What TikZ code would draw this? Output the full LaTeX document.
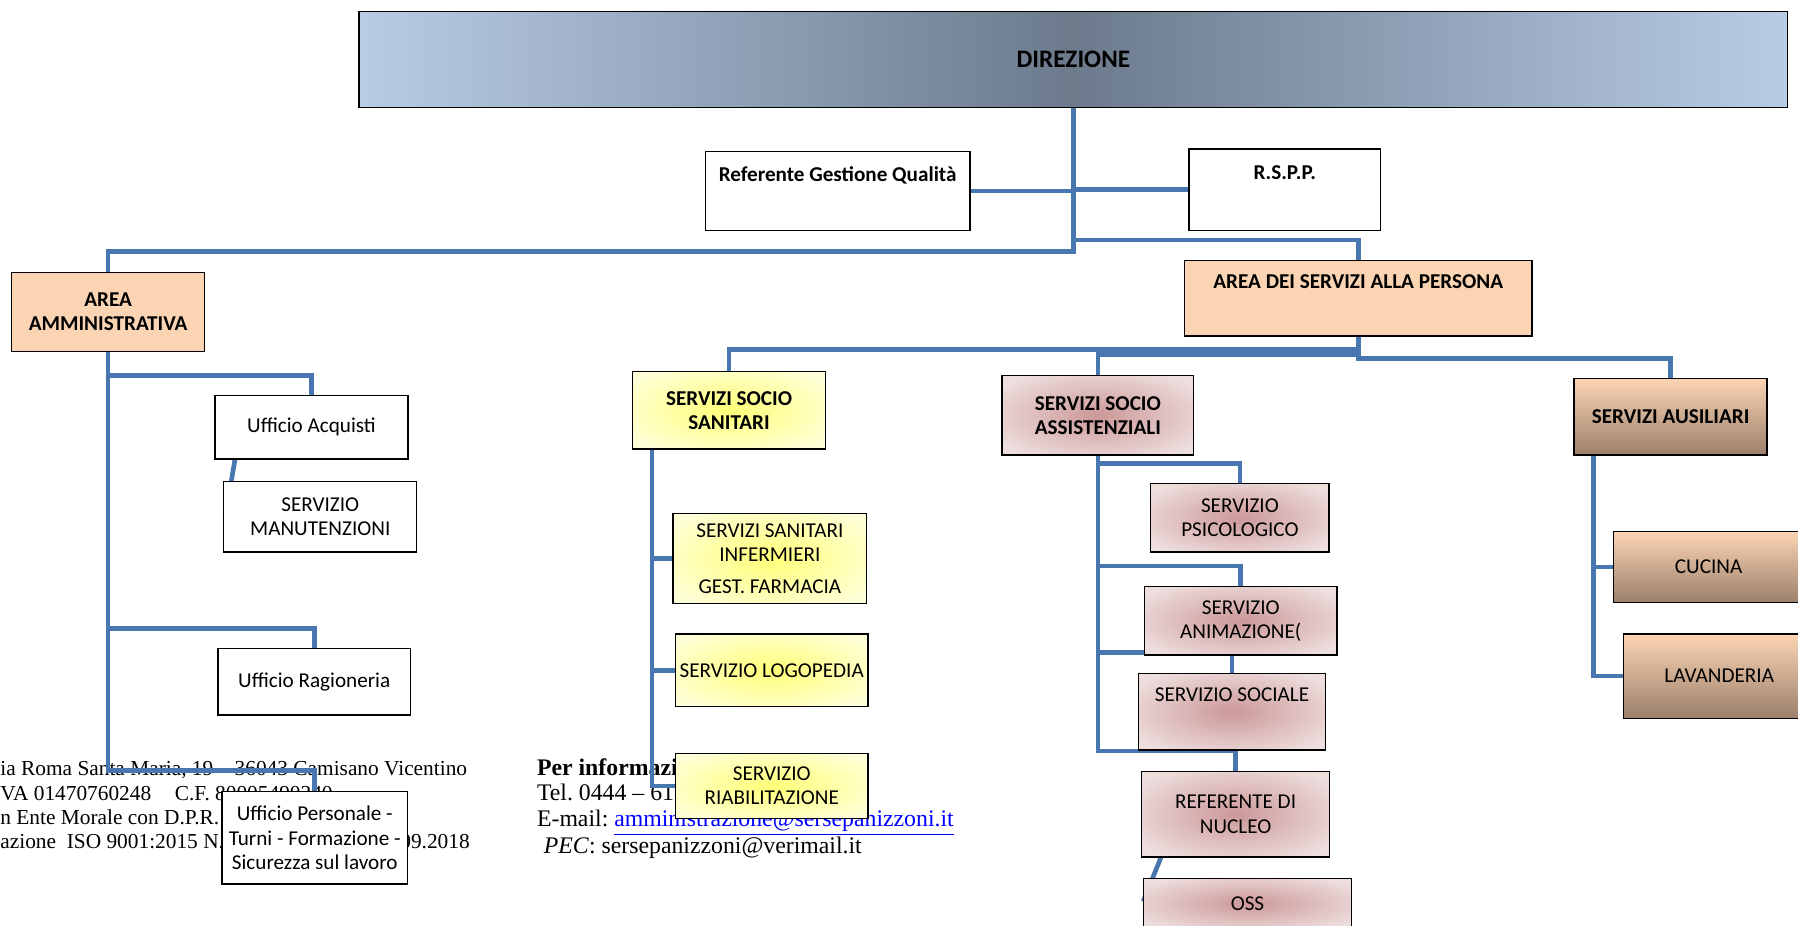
\documentclass[tikz,border=0pt]{standalone}
\usepackage{fontspec}
\setmainfont{Carlito}
\newfontfamily\timesfont{Liberation Serif}
\usetikzlibrary{calc,backgrounds}
\frenchspacing

\definecolor{connblue}{RGB}{72,118,176}
\definecolor{linkblue}{RGB}{0,0,255}
\definecolor{peach}{RGB}{251,212,180}
\definecolor{peachdark}{RGB}{155,128,107}
\definecolor{dirlight}{RGB}{184,204,230}
\definecolor{dirdark}{RGB}{108,122,140}
\definecolor{yelin}{RGB}{255,255,120}
\definecolor{yelout}{RGB}{255,255,215}
\definecolor{rosein}{RGB}{204,152,152}
\definecolor{roseout}{RGB}{238,222,222}

\pgfdeclarehorizontalshading{dirfade}{100bp}{color(0bp)=(dirlight); color(25bp)=(dirlight); color(50bp)=(dirdark); color(75bp)=(dirlight); color(100bp)=(dirlight)}
\pgfdeclareradialshading{yelfade}{\pgfpointorigin}{color(0bp)=(yelin); color(31bp)=(yelout); color(50bp)=(yelout)}
\pgfdeclareradialshading{rosefade}{\pgfpointorigin}{color(0bp)=(rosein); color(31bp)=(roseout); color(50bp)=(roseout)}

\tikzset{
  txt/.style={font=\fontsize{10.5}{12}\selectfont},
  head/.style={font=\bfseries\fontsize{10.5}{12}\selectfont},
  box/.style 2 args={draw=black, line width=0.7pt, fill=white, inner sep=0pt, outer sep=0pt,
    minimum width=#1*0.02cm, minimum height=#2*0.02cm, align=center, txt},
  ttl/.style={anchor=base, inner sep=0pt, yshift=-#1*0.02cm},
  dirbox/.style={shade, shading=dirfade, font=\bfseries\fontsize{12.5}{15}\selectfont},
  peachbox/.style={fill=peach},
  brownbox/.style={top color=peach, bottom color=peachdark},
  yelbox/.style={shade, shading=yelfade},
  rosebox/.style={shade, shading=rosefade},
  conn/.style={draw=connblue, line width=2.3pt},
  foot/.style={anchor=base west, inner sep=0pt, font=\timesfont\fontsize{10.6}{12}\selectfont},
  footr/.style={foot, font=\timesfont\fontsize{11.8}{13}\selectfont},
}

\begin{document}
\begin{tikzpicture}[x=0.02cm, y=-0.02cm]
  \useasboundingbox (0,0) rectangle (1568,807);
  \clip (0,0) rectangle (1568,807);
  %
  \node[box={1246}{84}, dirbox] (dir) at (936,52) {DIREZIONE};
  \node[box={231}{69}, label={[ttl=26.5, head]north:Referente Gestione Qualità}] (rgq) at (730.5,166.5) {};
  \node[box={167}{71}, label={[ttl=26.9, head]north:R.S.P.P.}] (rspp) at (1120.5,165.5) {};
  \node[box={303}{66}, peachbox, label={[ttl=24.2, head]north:AREA DEI SERVIZI ALLA PERSONA}] (asp) at (1184.5,260) {};
  \node[box={168.5}{69}, peachbox, head] (amm) at (94.3,272) {AREA\\AMMINISTRATIVA};
  %
  \node[box={168.3}{55.5}] (acq) at (271.6,372.7) {Ufficio Acquisti};
  \node[box={168.3}{61.5}] (man) at (279.3,450.7) {SERVIZIO\\MANUTENZIONI};
  \node[box={168}{57.8}] (rag) at (274,594.6) {Ufficio Ragioneria};
  \node[box={161.8}{80.6}] (pers) at (274.5,730.7) {Ufficio Personale -\\Turni - Formazione -\\Sicurezza sul lavoro};
  %
  \node[box={168.4}{67.6}, yelbox, head] (sss) at (635.8,357.8) {SERVIZI SOCIO\\SANITARI};
  \node[box={168.8}{78.3}, yelbox] (inf) at (671.4,486.9) {SERVIZI SANITARI\\INFERMIERI\\[3.7pt]GEST. FARMACIA};
  \node[box={168}{63.4}, yelbox] (logo) at (673,584.6) {SERVIZIO LOGOPEDIA};
  \node[box={168}{56.7}, yelbox] (riab) at (673,685.4) {SERVIZIO\\RIABILITAZIONE};
  %
  \node[box={167.3}{69.3}, rosebox, head] (ssa) at (957.4,362.2) {SERVIZI SOCIO\\ASSISTENZIALI};
  \node[box={155.5}{59.6}, rosebox] (psi) at (1081.3,451.6) {SERVIZIO\\PSICOLOGICO};
  \node[box={168}{59.5}, rosebox] (ani) at (1082,541.3) {SERVIZIO\\ANIMAZIONE(};
  \node[box={163.3}{66.6}, rosebox, label={[ttl=24.5, txt]north:SERVIZIO SOCIALE}] (soc) at (1074.4,620.7) {};
  \node[box={163.7}{74.2}, rosebox] (nuc) at (1077.5,710.1) {REFERENTE DI\\NUCLEO};
  \node[box={181.8}{44}, rosebox] (oss) at (1087.9,788) {OSS};
  %
  \node[box={168.3}{66.8}, brownbox, head] (aus) at (1456.9,363.4) {SERVIZI AUSILIARI};
  \node[box={166}{61.6}, brownbox] (cuc) at (1490,494.5) {CUCINA};
  \node[box={167.3}{73.5}, brownbox] (lav) at (1499.3,589.6) {LAVANDERIA};
  %
  \begin{scope}[on background layer]
    \node[foot] (addr) at (0,676) {ia Roma Santa Maria, 19 – 36043 Camisano Vicentino};
    \node[foot] (piva) at (0,697.7) {VA 01470760248\hspace{1.1em}C.F. 80005490240};
    \node[foot] (ente) at (0,718.6) {n Ente Morale con D.P.R.};
    \node[foot] (iso) at (0,739.8) {azione\ \ ISO 9001:2015 N.};
    \node[foot, anchor=base east] (isodate) at (410,739.8) {09.2018};
    \node[footr] (info) at (468,676) {\textbf{Per informazioni}};
    \node[footr] (tel) at (468,697.7) {Tel. 0444 – 611};
    \node[footr] (mail) at (468,721) {E-mail: \textcolor{linkblue}{\underline{amministrazione@sersepanizzoni.it}}};
    \node[footr] (pec) at (474,744) {\textit{PEC}: sersepanizzoni@verimail.it};
  \end{scope}
  %
  \coordinate (busasp) at (0,209.4);
  \coordinate (busamm) at (0,219.5);
  \coordinate (bussss) at (0,305);
  \coordinate (busssa) at (0,309);
  \coordinate (busaus) at (0,312.5);
  \coordinate (busacq) at (0,327.6);
  \coordinate (busrag) at (0,548);
  \coordinate (buspers) at (0,672);
  \coordinate (buspsi) at (0,404.3);
  \coordinate (busani) at (0,493.6);
  \coordinate (busnuc) at (0,655);
  \coordinate (sssdrop) at ($(sss.south west)+(17,0)$);
  \coordinate (ausdrop) at ($(aus.south west)+(16.8,0)$);
  %
  \begin{scope}[on background layer]
    \draw[conn] (dir.south) -- (dir.south |- busamm) -| (amm.north);
    \draw[conn] (dir.south |- busasp) -| (asp.north);
    \draw[conn] (rgq.east) -- (rgq.east -| dir.south);
    \draw[conn] (rspp.west -| dir.south) -- (rspp.west);
    %
    \draw[conn] (amm.south) -- (amm.south |- buspers) -| (pers.north);
    \draw[conn] (amm.south |- busacq) -| (acq.north);
    \draw[conn] (amm.south |- busrag) -| (rag.north);
    \draw[conn] ($(acq.south west)+(17.5,0)$) -- ($(man.west)+(1,1.5)$);
    %
    \draw[conn] (asp.south) -- (asp.south |- busaus) -| (aus.north);
    \draw[conn] (asp.south |- bussss) -| (sss.north);
    \draw[conn] (asp.south |- busssa) -| (ssa.north);
    %
    \draw[conn] (sssdrop) |- (riab.west);
    \draw[conn] (sssdrop) |- (inf.west);
    \draw[conn] (sssdrop) |- (logo.west);
    %
    \draw[conn] (ssa.south) -- (ssa.south |- busnuc) -| (nuc.north);
    \draw[conn] (ssa.south |- buspsi) -| (psi.north);
    \draw[conn] (ssa.south |- busani) -| (ani.north);
    \draw[conn] ($(ani.south west -| ssa.south)+(0,-2)$) -- ($(ani.south west)+(0,-2)$);
    \draw[conn] (soc.north |- ani.south) -- (soc.north);
    \draw[conn] ($(nuc.south west)+(17,0)$) -- ($(oss.west)+(0,-2)$);
    %
    \draw[conn] (ausdrop) |- (lav.west);
    \draw[conn] (ausdrop) |- (cuc.west);
  \end{scope}
\end{tikzpicture}
\end{document}
